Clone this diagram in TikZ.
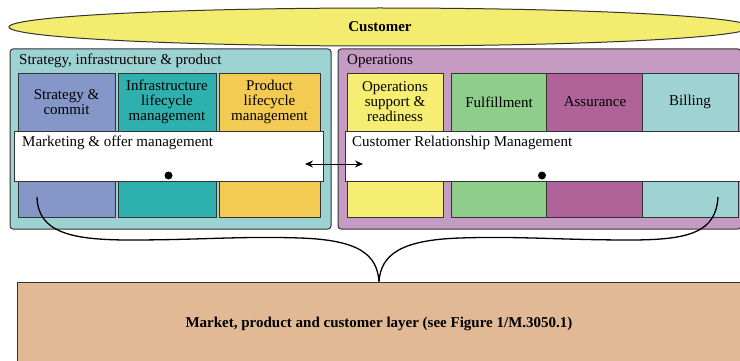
\documentclass[tikz,border=0pt]{standalone}
\usepackage{fontspec}
\setmainfont{Liberation Serif}
\usetikzlibrary{shapes.geometric,arrows.meta}
\definecolor{custyellow}{HTML}{F4EC6E}
\definecolor{sipbg}{HTML}{9DD2D2}
\definecolor{stratblue}{HTML}{8597C8}
\definecolor{infrateal}{HTML}{2EB1AE}
\definecolor{prodorange}{HTML}{F3CA52}
\definecolor{opsbg}{HTML}{C59AC3}
\definecolor{osryellow}{HTML}{F6EE73}
\definecolor{fulfgreen}{HTML}{8FCD8B}
\definecolor{assurplum}{HTML}{AF6399}
\definecolor{billcyan}{HTML}{9FD2D2}
\definecolor{mpcbrown}{HTML}{E2B995}
\definecolor{edge}{HTML}{333333}
\begin{document}
\begin{tikzpicture}[x=1pt,y=-1pt,
  every node/.style={font=\fontsize{15}{15}\selectfont},
  group/.style={rectangle,draw=edge,line width=1pt,rounded corners=3pt,inner sep=0pt},
  func/.style={rectangle,draw=edge,line width=0.9pt,minimum height=144pt,inner sep=0pt},
  layer/.style={rectangle,draw=edge,fill=white,line width=0.9pt,minimum height=50pt,inner sep=0pt},
  title/.style={anchor=west,inner sep=0pt},
  dot/.style={circle,fill=black,inner sep=0pt,minimum size=8pt}]
\useasboundingbox (0,0) rectangle (740,361);

% customer on top
\node[ellipse,draw=edge,line width=1pt,fill=custyellow,minimum width=742pt,minimum height=38pt,inner sep=0pt,font=\fontsize{15}{15}\selectfont\bfseries] (customer) at (380,27) {Customer};

% the two groups
\node[group,fill=sipbg,minimum width=321pt,minimum height=180pt] (sip) at (170.5,139) {};
\node[title] (siptitle) at (19,61) {Strategy, infrastructure \& product};
\node[group,fill=opsbg,minimum width=403pt,minimum height=180pt] (ops) at (539.5,139) {};
\node[title] (opstitle) at (347,61) {Operations};

% function blocks
\node[func,fill=stratblue,minimum width=97pt] (strat) at (66.5,145) {};
\node[func,fill=infrateal,minimum width=98pt] (infra) at (167,145) {};
\node[func,fill=prodorange,minimum width=101pt] (prod) at (269.5,145) {};
\node[func,fill=osryellow,minimum width=96pt] (osr) at (395,145) {};
\node[func,fill=fulfgreen,minimum width=95pt] (fulf) at (498.5,145) {};
\node[func,fill=assurplum,minimum width=96pt] (assur) at (594,145) {};
\node[func,fill=billcyan,minimum width=96pt] (bill) at (690,145) {};

\node[align=center] (strattext) at (66.5,102) {Strategy \&\\commit};
\node[align=center] (infratext) at (167,102) {Infrastructure\\lifecycle\\management};
\node[align=center] (prodtext) at (269.5,102) {Product\\lifecycle\\management};
\node[align=center] (osrtext) at (395,102) {Operations\\support \&\\readiness};
\node (fulftext) at (499,102) {Fulfillment};
\node (assurtext) at (595,102) {Assurance};
\node (billtext) at (690,102) {Billing};

% horizontal layers
\node[layer,minimum width=309pt] (mkt) at (168.5,156) {};
\node[title] (mkttext) at (22,143) {Marketing \& offer management};
\node[layer,minimum width=395pt] (crm) at (542.5,156) {};
\node[title] (crmtext) at (352,143) {Customer Relationship Management};

\node[dot] (mktdot) at (168.5,175.5) {};
\node[dot] (crmdot) at (542,175.5) {};

\coordinate (mktend) at (305,164);
\coordinate (crmend) at (363,164);
\draw[{Stealth[length=8pt,width=7pt]}-{Stealth[length=8pt,width=7pt]},line width=1pt] (mktend)--(crmend);

% market, product and customer layer
\node[rectangle,draw=edge,line width=1pt,fill=mpcbrown,minimum width=724pt,minimum height=84pt,inner sep=0pt,font=\fontsize{15}{15}\selectfont\bfseries] (mpc) at (379,324) {Market, product and customer layer (see Figure 1/M.3050.1)};

% brace
\coordinate (bracel) at (37,197);
\coordinate (bracer) at (718,197);
\draw[line width=1.3pt] (bracel) .. controls (38,232) and (70,240) .. (130,240)
  .. controls (200,240) and (240,236) .. (300,238)
  .. controls (360,240) and (377,255) .. (mpc.north);
\draw[line width=1.3pt] (bracer) .. controls (716,232) and (690,240) .. (630,240)
  .. controls (560,240) and (520,236) .. (460,238)
  .. controls (400,240) and (381,255) .. (mpc.north);
\end{tikzpicture}
\end{document}
